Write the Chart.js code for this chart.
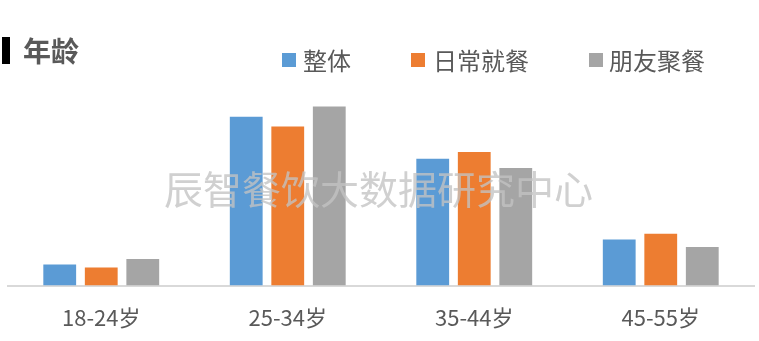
<!DOCTYPE html>
<html><head><meta charset="utf-8">
<script src="https://cdn.jsdelivr.net/npm/chart.js@4/dist/chart.umd.min.js"></script>
<style>
html,body{margin:0;padding:0;background:#fff;}
#wrap{position:relative;width:759px;height:341px;overflow:hidden;font-family:"Noto Sans CJK SC","Noto Sans",sans-serif;}
#c{position:absolute;left:0;top:0;}
.bar{position:absolute;left:2px;top:37px;width:8px;height:27px;background:#000;}
.title{position:absolute;left:23px;top:30px;font-size:28px;font-weight:bold;color:#595959;line-height:40px;}
.sq{position:absolute;top:53px;width:14px;height:14px;}
.leg{position:absolute;top:43px;font-size:24px;color:#595959;line-height:34px;white-space:nowrap;}
.wm{position:absolute;left:164px;top:164px;font-size:39px;color:rgba(195,195,195,0.78);line-height:46px;white-space:nowrap;}
</style></head>
<body>
<div id="wrap">
<canvas id="c" width="759" height="341"></canvas>
<div class="bar"></div>
<div class="title">年龄</div>
<div id="legend"></div>
<div class="wm">辰智餐饮大数据研究中心</div>
</div>
<script>
const categories = ["18-24岁", "25-34岁", "35-44岁", "45-55岁"];
const seriesNames = ["整体", "日常就餐", "朋友聚餐"];
const overall = [5.8, 46.5, 34.9, 12.7];
const daily = [5.0, 43.8, 36.8, 14.3];
const friends = [7.3, 49.3, 32.4, 10.6];
const colors = ["#5b9bd5", "#ed7d31", "#a5a5a5"];

const legendSq = [282, 411, 589];
const legendTx = [303, 433, 609];
const legEl = document.getElementById('legend');
seriesNames.forEach((n, i) => {
  const s = document.createElement('div');
  s.className = 'sq';
  s.style.left = legendSq[i] + 'px';
  s.style.background = colors[i];
  legEl.appendChild(s);
  const d = document.createElement('div');
  d.className = 'leg';
  d.style.left = legendTx[i] + 'px';
  d.textContent = n;
  legEl.appendChild(d);
});

new Chart(document.getElementById('c'), {
  type: 'bar',
  data: {
    labels: categories,
    datasets: [overall, daily, friends].map((d, i) => ({
      label: seriesNames[i], data: d, backgroundColor: colors[i],
      categoryPercentage: 0.668, barPercentage: 0.79
    }))
  },
  options: {
    responsive: false, animation: false,
    layout: { padding: { left: 8, right: 5, top: 104, bottom: 10 } },
    plugins: { legend: { display: false }, tooltip: { enabled: false } },
    scales: {
      x: {
        grid: { display: false, tickLength: 19 },
        border: { display: true, color: '#d9d9d9', width: 2 },
        ticks: { color: '#595959', padding: 0, font: { size: 22, family: '"Noto Sans CJK SC", sans-serif' } }
      },
      y: { display: false, min: 0, max: 50 }
    }
  }
});
</script>
</body></html>
